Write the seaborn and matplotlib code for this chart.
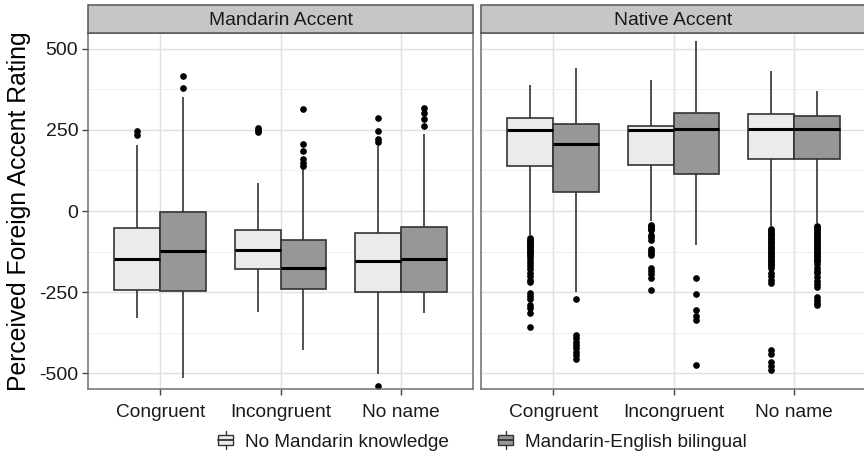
import matplotlib
matplotlib.use("Agg")
import numpy as np
import pandas as pd
import seaborn as sns
import matplotlib.pyplot as plt
from matplotlib.patches import Rectangle, Patch
from matplotlib.lines import Line2D
from matplotlib.legend_handler import HandlerBase

accents = ["Mandarin Accent", "Native Accent"]
conditions = ["Congruent", "Incongruent", "No name"]
groups = ["No Mandarin knowledge", "Mandarin-English bilingual"]

# Per condition: [lower whisker end, Q1, median, Q3, upper whisker end]
mandarin_none_box = [[-329, -243, -147, -53, 203],
                     [-313, -180, -120, -58, 87],
                     [-503, -250, -153, -67, 200]]
mandarin_none_out = [[235, 248],
                     [245, 250, 256],
                     [-541, 212, 222, 247, 288]]

mandarin_bi_box = [[-515, -247, -123, -3, 353],
                   [-429, -241, -176, -90, 130],
                   [-316, -250, -149, -48, 238]]
mandarin_bi_out = [[379, 417],
                   [139, 147, 160, 186, 207, 314],
                   [262, 284, 301, 317]]

native_none_box = [[-75, 140, 250, 287, 388],
                   [-30, 142, 250, 263, 403],
                   [-45, 159, 253, 300, 432]]
native_none_out = [[-84, -88, -92, -96, -100, -104, -108, -112, -116, -120, -125,
                    -130, -136, -142, -151, -161, -170, -178, -190, -200, -212,
                    -219, -253, -262, -272, -290, -300, -315, -357],
                   [-42, -46, -50, -55, -59, -74, -80, -90, -118, -124, -130,
                    -136, -177, -185, -195, -208, -244],
                   [-55, -60, -65, -70, -75, -80, -85, -90, -95, -100, -105, -110,
                    -115, -120, -125, -130, -135, -140, -145, -150, -155, -160,
                    -165, -170, -177, -192, -200, -212, -223, -429, -440, -465,
                    -478, -490]]

native_bi_box = [[-250, 60, 207, 269, 440],
                 [-105, 114, 252, 303, 524],
                 [-38, 159, 252, 294, 370]]
native_bi_out = [[-272, -383, -393, -403, -414, -424, -434, -444, -455],
                 [-206, -256, -306, -323, -336, -475],
                 [-46, -50, -55, -60, -65, -70, -75, -80, -85, -90, -95, -100,
                  -105, -110, -115, -120, -125, -130, -135, -140, -145, -150,
                  -155, -162, -177, -185, -192, -205, -215, -225, -234, -264,
                  -275, -283, -290]]

summaries = {
    ("Mandarin Accent", groups[0]): (mandarin_none_box, mandarin_none_out),
    ("Mandarin Accent", groups[1]): (mandarin_bi_box, mandarin_bi_out),
    ("Native Accent", groups[0]): (native_none_box, native_none_out),
    ("Native Accent", groups[1]): (native_bi_box, native_bi_out),
}


def sample_from_summary(box, out, reps=200):
    """Ratings whose quartiles, whisker ends and outliers equal the summary."""
    lo, q1, med, q3, hi = box
    return [lo] + [q1] * reps + [med] * reps + [q3] * reps + [hi] + list(out)


rows = []
for (accent, group), (boxes, outs) in summaries.items():
    for cond, box, out in zip(conditions, boxes, outs):
        for v in sample_from_summary(box, out):
            rows.append((accent, group, cond, v))
df = pd.DataFrame(rows, columns=["accent", "group", "condition", "rating"])

sns.set_theme(style="whitegrid")
plt.rcParams["font.family"] = ["Liberation Sans", "DejaVu Sans"]

fills = ["#ebebeb", "#979797"]
line_col = "#333333"
border_col = "#6e6e6e"
text_col = "#1a1a1a"

fig = plt.figure(figsize=(8.64, 4.58), dpi=100)
W, H = 864.0, 458.0
panel_w = 385
panel_top, panel_bot = 33, 389
lefts = [88, 481]
strip_h = 28

axes = []
for i, accent in enumerate(accents):
    ax = fig.add_axes([lefts[i] / W, 1 - panel_bot / H, panel_w / W,
                       (panel_bot - panel_top) / H])
    axes.append(ax)
    sns.boxplot(data=df[df["accent"] == accent], x="condition", y="rating",
                hue="group", order=conditions, hue_order=groups,
                palette=fills, width=0.76, gap=0, linecolor=line_col,
                linewidth=1.2, fliersize=3.8, showcaps=False,
                flierprops=dict(marker="o", markerfacecolor="black",
                                markeredgecolor="black"),
                medianprops=dict(color="black", linewidth=2.2),
                legend=False, ax=ax)
    ax.set_xlim(-0.6, 2.6)
    ax.set_ylim(-549, 549)
    ax.set_yticks([-500, -250, 0, 250, 500])
    ax.set_yticks([-375, -125, 125, 375], minor=True)
    ax.set_axisbelow(True)
    ax.grid(True, which="major", color="#e0e0e0", linewidth=1.0)
    ax.grid(True, which="minor", axis="y", color="#efefef", linewidth=0.7)
    ax.set_facecolor("white")
    ax.set_xlabel("")
    for sp in ax.spines.values():
        sp.set_visible(True)
        sp.set_color(border_col)
        sp.set_linewidth(1.1)
    ax.tick_params(axis="x", which="major", bottom=True, length=4, width=1,
                   color="#444444", labelsize=13.8, labelcolor=text_col, pad=7)
    if i == 0:
        ax.set_ylabel("Perceived Foreign Accent Rating", fontsize=17.8,
                      color="black", labelpad=6)
        ax.tick_params(axis="y", which="major", left=True, length=4, width=1,
                       color="#444444", labelsize=14, labelcolor=text_col,
                       pad=3)
        ax.set_yticklabels(["-500", "-250", "0", "250", "500"])
    else:
        ax.set_ylabel("")
        ax.tick_params(axis="y", which="both", left=False, labelleft=False)
    ax.tick_params(axis="y", which="minor", left=False)

    sh = strip_h / (panel_bot - panel_top)
    ax.add_patch(Rectangle((0, 1), 1, sh, transform=ax.transAxes,
                           clip_on=False, facecolor="#c6c6c6",
                           edgecolor="#555555", linewidth=1.1, zorder=5))
    ax.text(0.5, 1 + sh / 2 - 0.003, accent, transform=ax.transAxes,
            ha="center", va="center", fontsize=13.9, color=text_col, zorder=6)


class BoxKey(HandlerBase):
    """Small vertical boxplot glyph used as legend key."""

    def create_artists(self, legend, orig_handle, xdescent, ydescent,
                       width, height, fontsize, trans):
        fc = orig_handle.get_facecolor()
        x0, y0 = -xdescent, -ydescent
        cx = x0 + width / 2
        bw = width * 0.95
        body_lo, body_hi = y0 + height * 0.18, y0 + height * 0.82
        body = Rectangle((cx - bw / 2, body_lo), bw, body_hi - body_lo,
                         facecolor=fc, edgecolor=line_col, linewidth=1.0,
                         transform=trans)
        med = Line2D([cx - bw / 2, cx + bw / 2], [y0 + height / 2] * 2,
                     color=line_col, linewidth=1.3, transform=trans)
        w1 = Line2D([cx, cx], [y0 - height * 0.05, body_lo], color=line_col,
                    linewidth=1.0, transform=trans)
        w2 = Line2D([cx, cx], [body_hi, y0 + height * 1.05], color=line_col,
                    linewidth=1.0, transform=trans)
        return [w1, w2, body, med]


handles = [Patch(facecolor=c, edgecolor=line_col) for c in fills]
fig.legend(handles, groups, handler_map={Patch: BoxKey()},
           loc="center", bbox_to_anchor=(0.558, 1 - 441 / H), ncol=2,
           frameon=False, fontsize=13.7, handlelength=0.8, handleheight=1.0,
           handletextpad=0.6, columnspacing=2.6, labelcolor=text_col)

fig.savefig("out.png", dpi=100, facecolor="white")
